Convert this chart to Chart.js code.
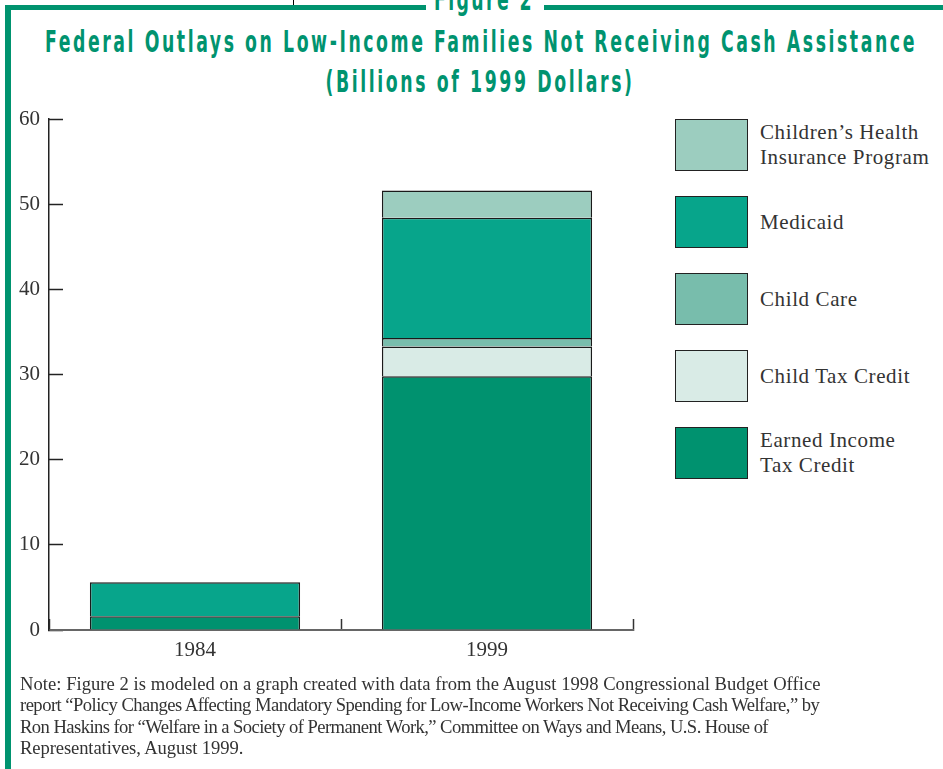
<!DOCTYPE html>
<html>
<head>
<meta charset="utf-8">
<script src="https://cdn.jsdelivr.net/npm/chart.js@4.4.0/dist/chart.umd.min.js"></script>
<style>
body{margin:0;width:943px;height:769px;background:#fff;overflow:hidden;position:relative;font-family:"Liberation Serif","DejaVu Serif",serif;color:#333}
.green{background:#00936f;position:absolute}
.head{position:absolute;color:#00936f;font-family:"Liberation Sans Narrow","DejaVu Sans Condensed",sans-serif;font-weight:bold;font-size:31px;line-height:31px;white-space:nowrap;transform:translateX(-50%) scaleX(0.62);transform-origin:center}
#chartWrap{position:absolute;left:0;top:0;width:660px;height:680px}
#legend{position:absolute;left:675px;top:119px}
.item{position:absolute;left:0;width:400px;height:52px}
.box{position:absolute;left:0;top:0;width:71px;height:50px;border:1px solid #222}
.lab{position:absolute;left:85px;top:0;height:52px;display:flex;align-items:center;font-size:21px;letter-spacing:0.6px;line-height:25px;color:#333;white-space:nowrap}
#note{position:absolute;left:20px;top:673px;font-size:18.6px;line-height:21.3px;color:#333;white-space:nowrap}
#note span{display:inline-block}
</style>
</head>
<body>
<div class="green" style="left:5px;top:5px;width:938px;height:5px"></div>
<div class="green" style="left:5px;top:5px;width:6px;height:764px"></div>
<div style="position:absolute;left:293px;top:0;width:1px;height:5px;background:#000"></div>
<div style="position:absolute;left:426px;top:0;width:118px;height:12px;background:#fff"></div>
<div class="head" id="fig" style="top:-16px;left:484px">Figure 2</div>
<div class="head" id="t1" style="top:26px;left:481px">Federal Outlays on Low-Income Families Not Receiving Cash Assistance</div>
<div class="head" id="t2" style="top:66px;left:480px">(Billions of 1999 Dollars)</div>
<div id="chartWrap"><canvas id="chart" width="660" height="680"></canvas></div>
<div id="legend"></div>
<div id="note"><span>Note: Figure 2 is modeled on a graph created with data from the August 1998 Congressional Budget Office</span><br><span>report “Policy Changes Affecting Mandatory Spending for Low-Income Workers Not Receiving Cash Welfare,” by</span><br><span>Ron Haskins for “Welfare in a Society of Permanent Work,” Committee on Ways and Means, U.S. House of</span><br><span>Representatives, August 1999.</span></div>
<script>
// data (billions of 1999 dollars)
const years = ['1984', '1999'];
const eitc = [1.6, 29.8];
const childTaxCredit = [null, 3.5];
const childCare = [null, 1.0];
const medicaid = [4.0, 14.1];
const chip = [null, 3.2];
const yTicks = [0, 10, 20, 30, 40, 50, 60];

const seriesNames = ['Earned Income\nTax Credit', 'Child Tax Credit', 'Child Care', 'Medicaid', 'Children’s Health\nInsurance Program'];
const seriesColors = ['#00926f', '#d9ebe6', '#78bdac', '#07a58b', '#9ccdbf'];
const seriesData = [eitc, childTaxCredit, childCare, medicaid, chip];

// stretch the heading letters to the widths seen in the picture
function fit(el, target, scale) {
  const n = el.textContent.length;
  const w = el.offsetWidth;
  el.style.letterSpacing = ((target / scale - w) / n) + 'px';
}
fit(document.getElementById('t1'), 872, 0.62);
fit(document.getElementById('t2'), 309, 0.62);
fit(document.getElementById('fig'), 100, 0.62);
const noteWidths = [800, 799, 748, 223];
document.querySelectorAll('#note span').forEach((s, i) => fit(s, noteWidths[i], 1));

const legend = document.getElementById('legend');
for (let i = seriesNames.length - 1, k = 0; i >= 0; i--, k++) {
  const it = document.createElement('div');
  it.className = 'item';
  it.style.top = (k * 77) + 'px';
  it.innerHTML = '<div class="box" style="background:' + seriesColors[i] + '"></div><div class="lab">' + seriesNames[i].replace('\n', '<br>') + '</div>';
  legend.appendChild(it);
}

const ctx = document.getElementById('chart');
new Chart(ctx, {
  type: 'bar',
  data: {
    labels: years,
    datasets: seriesData.map((d, i) => ({
      label: seriesNames[i],
      data: d,
      backgroundColor: seriesColors[i],
      borderColor: '#1a1a1a',
      borderWidth: 1.5,
      categoryPercentage: 0.8,
      barPercentage: 0.9
    }))
  },
  options: {
    responsive: false,
    animation: false,
    layout: {padding: {left: 0, right: 27, top: 119, bottom: 0}},
    plugins: {legend: {display: false}, tooltip: {enabled: false}},
    scales: {
      x: {
        stacked: true,
        afterFit: s => { s.height = 50; },
        grid: {drawOnChartArea: false, tickLength: -11, color: '#333', tickWidth: 1.5},
        border: {color: '#666', width: 2},
        ticks: {padding: 19, color: '#333', font: {family: 'Liberation Serif', size: 21}}
      },
      y: {
        stacked: true,
        min: 0,
        max: 60,
        afterFit: s => { s.width = 49; },
        afterBuildTicks: s => { s.ticks = yTicks.map(v => ({value: v})); },
        grid: {drawOnChartArea: false, tickLength: -14, color: '#222', tickWidth: 1.5},
        border: {color: '#222', width: 1.5},
        ticks: {padding: 23, color: '#333', font: {family: 'Liberation Serif', size: 21}}
      }
    }
  }
});
</script>
</body>
</html>
